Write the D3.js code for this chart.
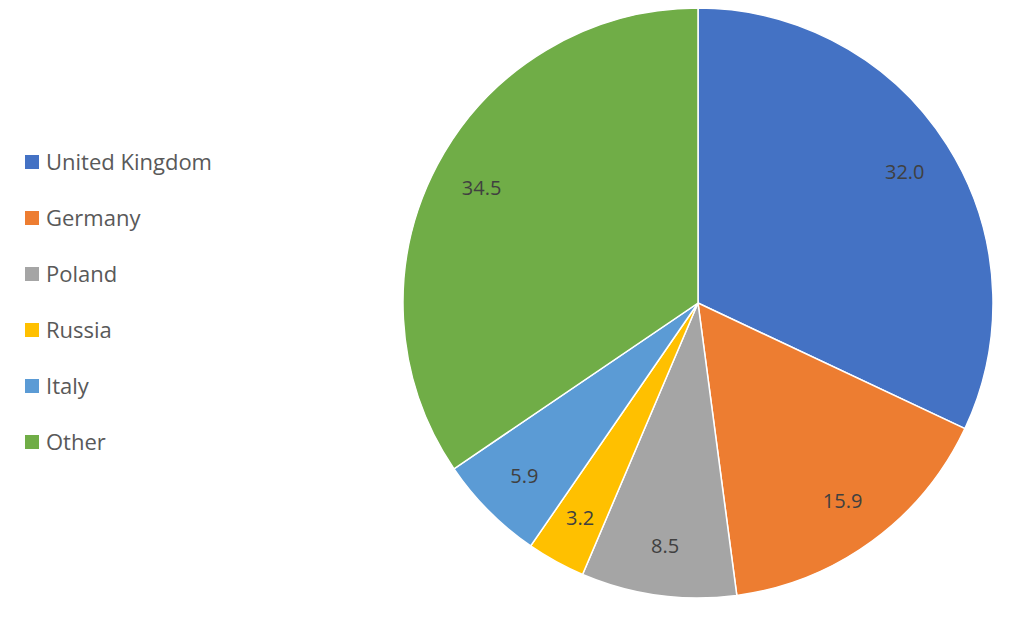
<!DOCTYPE html>
<html>
<head>
<meta charset="utf-8">
<style>body{margin:0;background:#fff}</style>
</head>
<body>
<div id="chart"></div>
<script src="https://cdn.jsdelivr.net/npm/d3@7"></script>
<script>
// chart data
var countries = ["United Kingdom","Germany","Poland","Russia","Italy","Other"];
var shares = [32.0,15.9,8.5,3.2,5.9,34.5];
var colours = ["#4472C4","#ED7D31","#A5A5A5","#FFC000","#5B9BD5","#70AD47"];

var w = 1024, h = 617;
var cx = 698, cy = 303, r = 295;

var svg = d3.select("#chart").append("svg").attr("width", w).attr("height", h);

var data = countries.map(function(c, i){ return {name: c, value: shares[i], colour: colours[i]}; });

var pie = d3.pie().sort(null).value(function(d){ return d.value; });
var arc = d3.arc().innerRadius(0).outerRadius(r);
var labelArc = d3.arc().innerRadius(r*0.83).outerRadius(r*0.83);

var g = svg.append("g").attr("transform", "translate(" + cx + "," + cy + ")");
var slices = g.selectAll("g").data(pie(data)).enter().append("g");

slices.append("path")
  .attr("d", arc)
  .attr("fill", function(d){ return d.data.colour; })
  .attr("stroke", "#fff")
  .attr("stroke-width", 1.5);

slices.append("text")
  .attr("transform", function(d){ return "translate(" + labelArc.centroid(d) + ")"; })
  .attr("text-anchor", "middle")
  .attr("dy", "0.35em")
  .style("font-family", "Open Sans, sans-serif")
  .style("font-size", "20px")
  .style("fill", "#404040")
  .text(function(d){ return d.data.value.toFixed(1); });

var legend = svg.selectAll(".leg").data(data).enter().append("g")
  .attr("transform", function(d, i){ return "translate(25," + (162 + i*56) + ")"; });
legend.append("rect").attr("x", 0).attr("y", -7).attr("width", 14).attr("height", 14)
  .attr("fill", function(d){ return d.colour; });
legend.append("text").attr("x", 21).attr("dy", "0.35em")
  .style("font-family", "Open Sans, sans-serif")
  .style("font-size", "22px")
  .style("fill", "#595959")
  .text(function(d){ return d.name; });
</script>
</body>
</html>
